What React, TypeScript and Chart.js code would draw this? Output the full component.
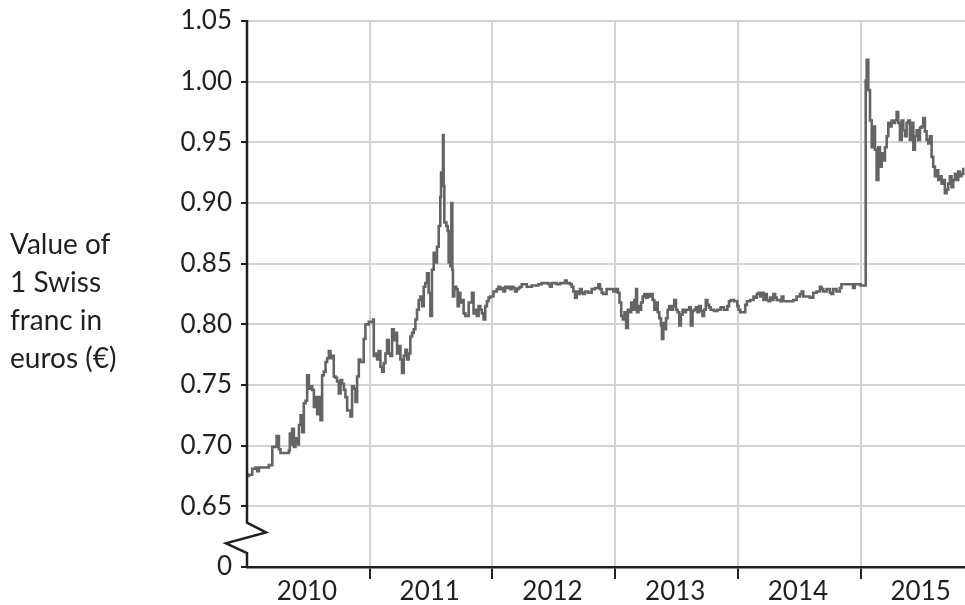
import React, { useEffect, useRef } from "react";
import { Chart, registerables } from "chart.js";

Chart.register(...registerables);

// Decimal-year offsets within each year and the CHF->EUR value
const t2010 = [0.008, 0.016, 0.043, 0.070, 0.083, 0.097, 0.138, 0.178, 0.206, 0.241, 0.260, 0.273, 0.341, 0.349, 0.360, 0.368, 0.382, 0.395, 0.409, 0.423, 0.436, 0.450, 0.463, 0.477, 0.490, 0.504, 0.518, 0.531, 0.545, 0.558, 0.572, 0.585, 0.599, 0.612, 0.626, 0.640, 0.653, 0.667, 0.680, 0.694, 0.707, 0.721, 0.734, 0.748, 0.762, 0.775, 0.789, 0.802, 0.816, 0.843, 0.856, 0.870, 0.884, 0.897, 0.911, 0.924, 0.951, 0.965, 0.992];
const v2010 = [0.675, 0.676, 0.681, 0.682, 0.679, 0.682, 0.682, 0.684, 0.699, 0.708, 0.697, 0.694, 0.696, 0.710, 0.701, 0.714, 0.699, 0.706, 0.701, 0.717, 0.725, 0.711, 0.735, 0.737, 0.758, 0.747, 0.749, 0.746, 0.732, 0.740, 0.726, 0.740, 0.721, 0.758, 0.761, 0.769, 0.772, 0.778, 0.772, 0.774, 0.757, 0.756, 0.753, 0.743, 0.754, 0.751, 0.746, 0.740, 0.729, 0.724, 0.749, 0.747, 0.736, 0.757, 0.771, 0.769, 0.788, 0.800, 0.802];

const t2011 = [0.027, 0.033, 0.046, 0.060, 0.073, 0.087, 0.101, 0.114, 0.128, 0.141, 0.155, 0.168, 0.182, 0.196, 0.209, 0.223, 0.236, 0.250, 0.263, 0.277, 0.291, 0.304, 0.318, 0.331, 0.345, 0.358, 0.372, 0.385, 0.399, 0.413, 0.426, 0.440, 0.453, 0.467, 0.480, 0.494, 0.507, 0.521, 0.535, 0.548, 0.562, 0.575, 0.581, 0.589, 0.597, 0.602, 0.608, 0.624, 0.635, 0.643, 0.657, 0.665, 0.673, 0.678, 0.689, 0.705, 0.716, 0.727, 0.738, 0.752, 0.765, 0.779, 0.793, 0.806, 0.819, 0.833, 0.846, 0.860, 0.873, 0.887, 0.901, 0.914, 0.928, 0.941, 0.955, 0.968, 0.982, 0.995];
const v2011 = [0.804, 0.774, 0.776, 0.771, 0.778, 0.765, 0.761, 0.768, 0.776, 0.787, 0.776, 0.774, 0.796, 0.787, 0.793, 0.776, 0.782, 0.771, 0.760, 0.774, 0.779, 0.771, 0.776, 0.790, 0.793, 0.796, 0.804, 0.812, 0.820, 0.823, 0.815, 0.831, 0.834, 0.842, 0.826, 0.807, 0.845, 0.859, 0.851, 0.864, 0.881, 0.905, 0.925, 0.922, 0.956, 0.914, 0.884, 0.881, 0.877, 0.851, 0.848, 0.900, 0.845, 0.823, 0.831, 0.829, 0.815, 0.826, 0.818, 0.820, 0.809, 0.807, 0.807, 0.818, 0.818, 0.826, 0.809, 0.812, 0.807, 0.815, 0.812, 0.809, 0.804, 0.815, 0.819, 0.822, 0.823, 0.823];

const t2012 = [0.008, 0.035, 0.049, 0.062, 0.076, 0.090, 0.103, 0.117, 0.130, 0.144, 0.157, 0.171, 0.184, 0.198, 0.212, 0.225, 0.239, 0.266, 0.279, 0.320, 0.374, 0.401, 0.429, 0.456, 0.469, 0.483, 0.510, 0.523, 0.551, 0.591, 0.605, 0.632, 0.646, 0.659, 0.673, 0.686, 0.700, 0.713, 0.727, 0.740, 0.754, 0.781, 0.808, 0.835, 0.862, 0.876, 0.890, 0.903, 0.930, 0.957, 0.985];
const v2012 = [0.827, 0.829, 0.831, 0.829, 0.830, 0.827, 0.831, 0.830, 0.831, 0.829, 0.831, 0.830, 0.827, 0.829, 0.830, 0.831, 0.833, 0.833, 0.831, 0.832, 0.833, 0.834, 0.834, 0.833, 0.831, 0.834, 0.834, 0.833, 0.834, 0.836, 0.834, 0.833, 0.831, 0.827, 0.822, 0.827, 0.825, 0.829, 0.826, 0.825, 0.827, 0.826, 0.829, 0.830, 0.833, 0.829, 0.826, 0.825, 0.829, 0.829, 0.827];

const t2013 = [0.008, 0.022, 0.035, 0.049, 0.062, 0.076, 0.089, 0.103, 0.116, 0.130, 0.143, 0.157, 0.170, 0.178, 0.189, 0.197, 0.211, 0.224, 0.238, 0.251, 0.265, 0.278, 0.292, 0.305, 0.319, 0.332, 0.346, 0.359, 0.373, 0.381, 0.392, 0.400, 0.414, 0.427, 0.441, 0.454, 0.468, 0.481, 0.495, 0.508, 0.522, 0.535, 0.549, 0.562, 0.576, 0.589, 0.603, 0.616, 0.630, 0.643, 0.657, 0.670, 0.684, 0.697, 0.711, 0.724, 0.738, 0.751, 0.765, 0.778, 0.805, 0.832, 0.859, 0.886, 0.914, 0.927, 0.941, 0.968, 0.995];
const v2013 = [0.829, 0.826, 0.818, 0.807, 0.804, 0.810, 0.797, 0.812, 0.810, 0.818, 0.812, 0.820, 0.829, 0.810, 0.815, 0.812, 0.818, 0.823, 0.825, 0.822, 0.825, 0.823, 0.825, 0.820, 0.812, 0.818, 0.810, 0.805, 0.799, 0.788, 0.801, 0.796, 0.805, 0.812, 0.815, 0.812, 0.815, 0.820, 0.812, 0.810, 0.799, 0.808, 0.812, 0.810, 0.812, 0.812, 0.814, 0.799, 0.811, 0.812, 0.814, 0.810, 0.815, 0.811, 0.807, 0.812, 0.820, 0.816, 0.814, 0.812, 0.811, 0.812, 0.814, 0.812, 0.815, 0.819, 0.820, 0.819, 0.815];

const t2014 = [0.005, 0.019, 0.046, 0.059, 0.073, 0.100, 0.127, 0.141, 0.154, 0.168, 0.181, 0.195, 0.208, 0.222, 0.235, 0.249, 0.262, 0.276, 0.289, 0.303, 0.316, 0.330, 0.343, 0.357, 0.370, 0.397, 0.424, 0.451, 0.478, 0.505, 0.519, 0.532, 0.559, 0.586, 0.614, 0.641, 0.668, 0.681, 0.695, 0.722, 0.749, 0.762, 0.776, 0.803, 0.830, 0.843, 0.870, 0.897, 0.924, 0.938, 0.951, 0.978];
const v2014 = [0.812, 0.810, 0.810, 0.816, 0.819, 0.820, 0.823, 0.822, 0.825, 0.826, 0.823, 0.826, 0.820, 0.825, 0.820, 0.819, 0.822, 0.820, 0.825, 0.822, 0.820, 0.820, 0.819, 0.823, 0.819, 0.819, 0.819, 0.820, 0.823, 0.825, 0.827, 0.823, 0.823, 0.822, 0.826, 0.827, 0.831, 0.829, 0.827, 0.829, 0.826, 0.825, 0.829, 0.827, 0.830, 0.833, 0.833, 0.833, 0.833, 0.830, 0.833, 0.833];

const t2015 = [0.000, 0.022, 0.035, 0.041, 0.049, 0.062, 0.076, 0.090, 0.103, 0.117, 0.130, 0.144, 0.157, 0.171, 0.184, 0.198, 0.212, 0.225, 0.239, 0.252, 0.266, 0.279, 0.293, 0.306, 0.320, 0.334, 0.347, 0.361, 0.374, 0.388, 0.401, 0.415, 0.429, 0.442, 0.456, 0.469, 0.483, 0.496, 0.510, 0.523, 0.537, 0.551, 0.564, 0.578, 0.591, 0.605, 0.618, 0.632, 0.646, 0.659, 0.673, 0.686, 0.700, 0.713, 0.727, 0.740, 0.754, 0.768, 0.781, 0.795, 0.808, 0.822, 0.835];
const v2015 = [0.832, 0.832, 0.832, 1.001, 1.018, 0.993, 0.968, 0.946, 0.963, 0.944, 0.919, 0.946, 0.930, 0.941, 0.935, 0.946, 0.955, 0.966, 0.963, 0.968, 0.966, 0.968, 0.975, 0.966, 0.952, 0.968, 0.960, 0.955, 0.966, 0.968, 0.952, 0.966, 0.944, 0.955, 0.960, 0.952, 0.962, 0.963, 0.970, 0.959, 0.952, 0.949, 0.955, 0.938, 0.930, 0.922, 0.927, 0.919, 0.922, 0.916, 0.919, 0.908, 0.911, 0.916, 0.922, 0.913, 0.919, 0.924, 0.919, 0.926, 0.922, 0.924, 0.929];

const years = [2010, 2011, 2012, 2013, 2014, 2015];
const yearLabels = ["2010", "2011", "2012", "2013", "2014", "2015"];
const yTickValues = [0.6, 0.65, 0.7, 0.75, 0.8, 0.85, 0.9, 0.95, 1.0, 1.05];
const yTickLabels = ["0", "0.65", "0.70", "0.75", "0.80", "0.85", "0.90", "0.95", "1.00", "1.05"];
const axisTitleLines = ["Value of", "1 Swiss", "franc in", "euros (€)"];

const X_MIN = 2010;
const X_MAX = 2015.85;
const Y_MIN = 0.6;
const Y_MAX = 1.05;

const TEXT = "#231f20";
const GRID = "#d1d3d4";
const LINE = "#636466";
const FONT = "Lato";

function buildPoints() {
  const pts: { x: number; y: number }[] = [];
  const groups: [number, number[], number[]][] = [
    [2010, t2010, v2010],
    [2011, t2011, v2011],
    [2012, t2012, v2012],
    [2013, t2013, v2013],
    [2014, t2014, v2014],
    [2015, t2015, v2015],
  ];
  for (const [yr, ts, vs] of groups) {
    ts.forEach((t, i) => pts.push({ x: yr + t, y: vs[i] }));
  }
  return pts;
}

const brokenAxisPlugin = {
  id: "brokenAxis",
  afterDraw(chart: any) {
    const { ctx, chartArea, scales } = chart;
    const y = scales.y;
    const x0 = chartArea.left;
    const yTop = y.getPixelForValue(Y_MAX);
    const yBreak = y.getPixelForValue(0.65);
    const yBottom = y.getPixelForValue(Y_MIN);
    const gap = yBottom - yBreak;
    ctx.save();
    ctx.strokeStyle = TEXT;
    ctx.lineWidth = 2.5;
    ctx.lineJoin = "miter";
    ctx.beginPath();
    ctx.moveTo(x0, yTop - 1);
    ctx.lineTo(x0, yBreak + gap * 0.27);
    ctx.lineTo(x0 + 19, yBreak + gap * 0.43);
    ctx.lineTo(x0 - 21, yBreak + gap * 0.61);
    ctx.lineTo(x0, yBreak + gap * 0.77);
    ctx.lineTo(x0, yBottom + 1);
    ctx.stroke();

    // horizontal y-axis title
    ctx.fillStyle = TEXT;
    ctx.font = `28px ${FONT}`;
    ctx.textAlign = "left";
    ctx.textBaseline = "alphabetic";
    const mid = (chartArea.top + chartArea.bottom) / 2;
    const lh = 38;
    axisTitleLines.forEach((line, i) => {
      ctx.fillText(line, 10, mid - 40 + i * lh);
    });
    ctx.restore();
  },
};

export default function App() {
  const canvasRef = useRef<HTMLCanvasElement | null>(null);

  useEffect(() => {
    if (!canvasRef.current) return;
    const chart = new Chart(canvasRef.current, {
      type: "line",
      data: {
        datasets: [
          {
            data: buildPoints(),
            borderColor: LINE,
            borderWidth: 2.6,
            pointRadius: 0,
            stepped: true,
            fill: false,
          },
        ],
      },
      options: {
        animation: false,
        responsive: true,
        maintainAspectRatio: false,
        layout: { padding: { top: 21, left: 0, right: 0, bottom: 0 } },
        plugins: {
          legend: { display: false },
          tooltip: { enabled: false },
        },
        scales: {
          x: {
            type: "linear",
            min: X_MIN,
            max: X_MAX,
            afterBuildTicks: (scale: any) => {
              scale.ticks = years.map((v) => ({ value: v }));
            },
            afterFit: (scale: any) => {
              scale.height = 38;
              scale.paddingLeft = 0;
              scale.paddingRight = 0;
            },
            ticks: {
              autoSkip: false,
              maxRotation: 0,
              padding: -3,
              labelOffset: 60,
              color: TEXT,
              font: { family: FONT, size: 26 },
              callback: (_v: any, i: number) => yearLabels[i],
            },
            grid: {
              color: (c: any) => (c.index === 0 ? "rgba(0,0,0,0)" : GRID),
              lineWidth: 2,
              tickColor: (c: any) => (c.index === 0 ? "rgba(0,0,0,0)" : TEXT),
              tickLength: 12,
              tickWidth: 2,
            },
            border: { display: true, color: TEXT, width: 2.5 },
          },
          y: {
            type: "linear",
            min: Y_MIN,
            max: Y_MAX,
            afterBuildTicks: (scale: any) => {
              scale.ticks = yTickValues.map((v) => ({ value: v }));
            },
            afterFit: (scale: any) => {
              scale.width = 247;
              scale.paddingTop = 0;
              scale.paddingBottom = 0;
            },
            ticks: {
              padding: 9,
              color: TEXT,
              font: { family: FONT, size: 26 },
              callback: (_v: any, i: number) => yTickLabels[i],
            },
            grid: {
              color: (c: any) => (c.index === 0 ? "rgba(0,0,0,0)" : GRID),
              lineWidth: 2,
              tickColor: TEXT,
              tickLength: 6,
              tickWidth: 2,
            },
            border: { display: false },
          },
        },
      },
      plugins: [brokenAxisPlugin],
    });
    return () => chart.destroy();
  }, []);

  return (
    <div style={{ position: "absolute", left: 0, top: 0, width: 965, height: 605, background: "#fff" }}>
      <canvas ref={canvasRef} />
    </div>
  );
}
